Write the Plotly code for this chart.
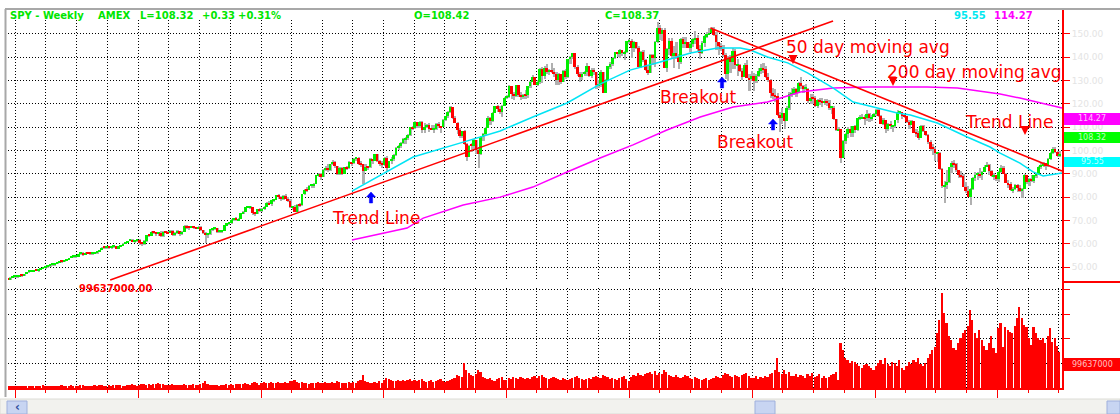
import plotly.graph_objects as go
import pandas as pd
import numpy as np

W, H = 1120, 414

# ---------------- DATA (weekly SPY) ----------------
first_open = 45.3

c94 = [44.6, 45.5, 45.9, 45.9]
h94 = [45.5, 45.7, 46.1, 46.3]
l94 = [44.3, 44.5, 45.3, 45.6]
v94 = [7, 8, 9, 6]

c95 = [46.0,46.5,46.4,47.0, 47.9,48.1,48.2,48.8, 48.5,48.9,49.5,49.7,50.1, 50.6,50.9,51.0,51.4, 52.0,52.5,52.3,52.8, 53.3,53.9,54.4,54.4,54.5, 55.6,56.0,55.4,56.2, 55.8,55.6,56.0,56.1, 56.3,57.2,58.3,58.2,58.4, 58.3,58.6,58.9,58.1, 58.9,59.3,60.0,60.7, 61.2,61.6,61.1,61.4,61.6]
h95 = [46.3,46.7,46.8,47.1, 48.0,48.3,48.4,48.9, 49.0,49.0,49.6,50.0,50.3, 50.7,51.0,51.2,51.5, 52.2,52.6,52.8,53.0, 53.5,54.0,54.6,54.9,54.8, 55.7,56.4,56.4,56.4, 56.4,56.0,56.2,56.4, 56.6,57.4,58.4,58.6,58.7, 58.6,58.8,59.2,59.0, 59.0,59.5,60.1,60.8, 61.3,61.9,62.2,61.6,61.8]
l95 = [45.6,45.9,46.1,46.2, 46.9,47.7,47.9,48.0, 48.3,48.2,48.8,49.3,49.5, 49.9,50.4,50.3,50.8, 51.2,51.8,52.0,52.1, 52.5,52.9,53.7,53.9,54.0, 54.4,55.3,54.8,55.3, 55.5,55.2,55.4,55.7, 55.9,56.3,57.2,57.8,57.8, 57.7,57.8,58.3,57.6, 58.0,58.7,59.0,59.8, 60.5,61.0,60.7,60.5,61.1]
v95 = [8,9,7,8, 9,8,10,8, 9,10,8,11,9, 8,9,10,8, 9,10,11,9, 10,9,12,10,9, 10,11,12,9, 8,9,10,11, 10,12,11,9,10, 11,10,12,13, 11,12,10,9, 12,14,16,11,8]

c96 = [60.2,59.9,61.1,63.6, 63.5,65.0,64.7,64.4, 64.4,63.3,65.1,65.0,64.5, 65.5,63.6,64.5,65.5, 64.2,65.2,67.8,67.0,66.9, 67.3,66.8,66.6,67.2, 65.7,64.6,63.8,64.0, 66.2,66.6,66.6,65.1,65.2, 65.5,68.0,68.7,68.7, 70.1,71.0,70.1,70.5, 73.0,73.7,75.7,75.7,75.7, 73.3,72.8,74.8,74.1]
h96 = [62.1,60.5,61.4,63.8, 64.2,65.3,65.6,65.1, 65.0,65.5,65.3,65.5,65.4, 65.7,65.7,64.9,65.8, 65.6,65.6,67.9,68.1,67.4, 67.6,67.5,67.1,67.4, 67.5,66.0,65.1,64.5, 66.5,66.8,66.9,66.7,65.6, 65.8,68.2,69.0,69.0, 70.4,71.2,71.4,70.9, 73.3,73.9,75.9,76.2,76.0, 75.9,73.6,75.1,75.4]
l96 = [59.6,59.0,59.4,60.9, 63.0,63.4,64.0,63.5, 63.4,62.8,63.0,64.7,64.1, 64.4,63.2,63.4,64.3, 63.4,63.9,65.1,66.5,66.1, 66.6,66.4,66.2,66.3, 65.4,64.2,60.5,62.6, 63.8,65.5,66.0,64.8,64.9, 64.6,65.4,67.8,68.3, 68.6,69.8,69.8,69.9, 70.4,72.7,73.6,75.2,75.3, 72.4,71.9,72.7,73.8]
v96 = [14,16,18,14, 16,14,18,16, 20,18,16,14,12, 14,16,14,12, 14,12,16,14,12, 14,16,12,14, 16,20,29,18, 14,12,14,12,10, 12,14,16,14, 16,14,18,16, 18,16,20,18,14, 20,24,22,14]

c97 = [74.8,75.9,77.6,77.0,78.6, 78.9,80.8,80.1,79.1, 80.4,79.3,78.5,75.7, 75.7,73.7,76.6,76.5, 81.2,83.0,82.9,84.8,84.8, 85.8,89.3,89.8,88.7, 91.6,92.6,91.6,94.1, 95.0,93.3,90.0,92.3,89.9, 92.9,92.3,95.0,94.5, 96.5,96.6,94.4,94.1,91.4, 93.0,92.8,96.3,95.5, 98.3,95.3,94.6,93.6]
h97 = [75.3,76.1,77.8,78.2,78.8, 79.4,81.1,81.3,80.6, 80.8,81.5,79.9,79.0, 76.4,76.7,76.9,77.3, 81.4,83.4,84.2,85.0,85.3, 86.0,89.5,90.5,90.5, 92.0,93.4,94.0,94.4, 96.1,95.5,93.5,93.0,92.8, 93.1,93.5,95.5,95.1, 96.7,97.2,97.0,95.5,94.3, 94.2,93.5,96.6,96.5, 98.5,98.4,96.1,95.5]
l97 = [73.7,74.3,75.6,76.5,76.2, 77.8,78.6,79.4,78.4, 78.9,79.0,78.0,75.5, 74.6,73.6,73.7,75.9, 76.3,80.8,82.1,82.9,84.0, 83.9,85.7,88.5,87.5, 88.6,91.0,90.8,91.4, 93.6,92.4,89.4,89.6,89.7, 90.1,91.8,92.0,93.5, 94.4,95.6,93.8,92.8,85.5, 91.2,91.6,92.3,94.2, 95.4,95.0,93.3,92.6]
v97 = [20,24,22,20,24, 22,20,24,22, 20,24,22,28, 29,33,24,22, 24,20,22,18,20, 22,20,24,22, 20,24,22,20, 24,22,29,24,22, 20,22,24,22, 24,22,29,33,53, 29,24,22,20, 24,22,29,20]

c98 = [96.9,92.7,95.3,96.5,98.0, 101.2,102.0,103.4,104.9, 105.5,106.8,109.9,109.5, 112.2,110.7,112.4,108.6, 110.1,110.9,109.2,109.1,109.1, 111.3,110.4,110.0,113.3, 114.6,116.6,118.6,114.1,112.0, 108.9,106.2,108.2,102.7, 97.3,102.1,102.0,104.4, 100.2,98.4,105.6,107.1,109.8, 114.1,112.5,116.3,119.2, 117.7,116.6,118.9,122.6]
h98 = [97.2,97.6,95.7,97.2,98.3, 101.4,102.4,103.6,105.2, 105.9,107.0,110.0,110.6, 112.5,112.3,112.7,112.6, 111.8,111.3,112.0,110.8,110.9, 111.7,112.1,110.5,113.5, 114.9,116.8,119.0,118.8,115.0, 112.4,109.5,108.5,108.8, 103.1,102.4,103.2,104.8, 104.5,101.6,106.4,107.4,110.0, 114.8,114.4,116.5,119.3, 119.6,119.0,119.5,122.9]
l98 = [93.4,91.2,92.5,94.1,95.4, 97.8,100.3,101.0,103.0, 103.0,104.7,106.3,108.8, 109.2,109.5,109.7,107.7, 107.5,109.5,108.1,108.6,107.6, 108.8,109.8,107.6,109.9, 112.7,114.0,116.3,113.7,111.7, 107.2,105.3,105.2,102.5, 95.7,97.1,99.5,100.4, 98.7,92.3,98.0,104.2,106.5, 110.2,111.0,112.3,116.4, 116.5,115.8,114.2,119.0]
v98 = [33,41,37,33,29, 29,33,29,33, 29,33,37,29, 33,29,33,37, 29,25,29,33,25, 29,33,37,29, 25,29,33,37,41, 53,49,45,100, 73,61,53,49, 57,75,65,45,41, 37,41,33,29, 37,41,45,33]

c99 = [122.9,127.5,124.3,123.5,127.9, 123.9,123.1,123.9,123.8, 127.5,129.4,131.6,128.3, 129.3,134.8,131.9,135.6,133.5, 134.6,133.8,133.0,130.2, 132.8,129.4,134.2,131.5, 139.1,140.3,141.8,135.7,132.8, 131.4,132.9,133.6,136.1, 132.0,134.7,133.5,128.0, 128.2,133.7,124.7,130.1,136.2, 137.0,139.6,142.2,141.6, 143.3,141.8,142.1,146.9,146.9]
h99 = [123.9,128.2,127.5,125.3,128.0, 128.3,125.1,124.4,125.9, 127.8,130.0,132.3,131.7, 130.2,135.3,135.8,136.1,137.0, 135.0,137.6,135.2,133.9, 133.2,133.0,134.6,134.9, 139.4,140.6,142.0,141.9,136.8, 133.8,133.6,134.2,137.7, 136.4,135.2,135.2,133.6, 130.2,134.7,133.8,130.5,136.3, 138.0,140.0,142.4,142.4, 143.5,143.3,142.8,147.0,147.9]
l99 = [122.1,122.6,122.0,121.7,122.8, 123.1,121.8,121.9,122.3, 122.5,126.7,129.4,127.9, 127.6,128.6,129.0,130.8,132.7, 132.5,133.2,131.4,128.3, 128.1,128.6,129.4,130.8, 131.3,137.3,139.4,135.1,132.0, 129.6,130.2,131.8,132.1, 131.6,131.0,132.4,126.4, 126.8,127.1,124.7,124.5,130.0, 135.0,136.3,139.3,140.3, 139.7,140.7,139.0,141.9,145.8]
v99 = [33,41,37,45,41, 37,45,41,37, 41,37,45,49, 41,49,53,45,41, 37,41,45,41, 37,33,41,37, 33,37,41,45,49, 41,37,33,37, 41,37,45,49, 45,41,53,49,45, 37,41,37,33, 41,45,49,37,29]

c00 = [144.1,146.5,144.1,136.0, 142.4,138.7,134.6,133.3, 140.9,139.5,146.4,152.7,149.9, 151.6,135.6,143.4,146.9, 140.7,142.0,140.6,137.8, 147.7,145.8,146.4,144.1,145.5, 147.8,148.1,143.7,141.9, 146.2,149.1,149.9,150.6, 152.0,149.4,146.6,144.9,143.7, 140.8,132.9,139.6,137.9, 142.6,136.5,136.7,134.1, 131.5,136.9,131.2,130.5,132.0]
h00 = [147.8,147.2,146.5,144.9, 142.8,143.1,139.4,136.8, 141.5,141.6,146.9,155.3,153.9, 152.7,152.5,144.1,148.2, 148.1,144.7,146.6,141.2, 148.2,148.5,148.8,146.1,146.5, 148.1,151.4,149.5,145.2, 146.9,149.5,150.9,152.6, 152.9,153.0,150.9,146.4,146.2, 145.4,141.7,140.6,140.9, 143.9,143.4,139.4,137.3, 135.4,137.6,138.7,132.8,134.0]
l00 = [139.8,142.1,143.7,135.8, 135.2,138.0,134.3,132.3, 133.1,136.7,136.0,146.1,147.3, 147.2,135.3,133.7,141.0, 139.8,135.5,139.4,134.9, 137.3,144.1,143.8,143.9,142.2, 144.3,145.5,142.4,139.4, 141.4,144.3,148.2,149.5, 149.8,149.0,143.2,141.0,142.6, 140.2,130.5,129.9,133.4, 135.0,135.0,132.0,133.9, 130.3,131.5,130.9,125.5,129.7]
v00 = [45,53,49,61, 53,49,57,61, 65,57,69,53,61, 57,73,65,53, 49,45,53,45, 41,45,53,49,41, 37,45,41,37, 33,37,41,33, 37,41,49,45,41, 53,61,57,49, 45,53,49,45, 53,57,61,49,41]

c01 = [129.8,131.9,134.3,135.4, 134.9,131.5,130.1,124.5, 123.5,123.3,115.1,113.9,116.0, 112.8,118.4,124.2,124.2, 126.6,124.6,129.1,127.7, 126.5,126.5,121.4,122.5,122.4, 119.1,121.5,121.1,120.5, 121.4,120.2,118.3,118.4,113.4, 108.6,109.3,96.6,104.1, 107.1,109.1,107.3,110.4, 108.7,113.9,113.9,114.4,113.9, 115.8,113.9,114.4,115.8]
h01 = [133.3,133.0,135.4,137.2, 137.4,136.4,133.2,130.8, 126.8,126.5,124.7,116.7,118.1, 116.3,119.2,125.2,126.9, 127.3,126.9,129.2,131.5, 128.1,128.5,126.7,124.1,124.3, 123.6,121.9,122.7,122.7, 122.2,122.3,121.7,118.9,119.3, 113.4,110.0,108.4,104.5, 107.7,110.2,110.7,110.6, 110.9,114.0,115.2,115.5,115.2, 117.5,116.3,115.2,116.2]
l01 = [125.5,128.8,131.6,132.9, 133.2,130.9,129.2,122.7, 121.9,120.8,115.0,108.1,111.3, 109.1,112.6,117.3,123.0, 123.9,122.9,124.6,126.3, 124.8,125.8,120.5,119.9,120.0, 118.7,118.1,119.6,118.7, 119.7,119.0,117.2,115.7,113.0, 108.3,108.5,94.5,96.8, 102.9,105.3,106.0,105.6, 107.3,108.3,113.2,113.6,111.0, 112.8,112.4,112.8,114.5]
v01 = [41,49,37,45, 41,49,45,57, 61,73,122,65,57, 73,57,65,49, 49,57,45,53, 49,41,57,49,61, 45,49,57,41, 49,41,45,53,57, 65,33,184,155, 122,114,102,110, 106,98,90,82,94, 98,90,82,73]

c02 = [117.2,114.6,111.5,113.3, 109.4,111.3,110.4,110.4, 113.1,116.4,116.6,114.8,114.7, 112.3,111.1,112.5,107.6, 107.3,105.4,110.6,108.3,106.7, 103.7,100.8,100.7,98.9, 98.9,92.1,84.7,85.2, 86.4,92.8,94.6,94.1,91.6, 89.3,88.9,84.5,82.8, 80.0,83.5,88.4,89.7, 90.0,89.4,90.9,93.0,93.6, 91.2,88.9,89.5,87.6]
h02 = [117.6,117.7,115.2,113.8, 113.1,112.0,112.6,111.1, 113.3,117.3,117.1,116.7,115.5, 114.8,113.0,113.1,112.6, 109.1,108.5,111.0,111.1,108.5, 106.9,104.3,102.7,101.3, 99.4,99.4,92.3,87.0, 91.6,92.9,95.4,96.0,94.6, 91.8,91.3,89.9,86.5, 84.6,84.0,88.8,90.7, 90.8,92.7,91.2,93.8,95.2, 94.1,91.6,90.4,89.5]
l02 = [114.6,114.2,111.2,110.9, 107.6,108.5,109.2,107.9, 109.8,112.0,115.5,113.5,114.1, 111.8,109.4,110.9,107.5, 105.7,104.6,105.5,107.9,106.1, 102.6,99.9,98.2,95.7, 95.1,91.6,84.0,77.6, 83.6,86.0,90.3,92.4,90.6, 88.0,88.0,84.4,81.7, 80.0,76.8,83.0,87.0, 87.2,88.0,87.4,90.9,93.1, 89.4,88.7,87.4,87.0]
v02 = [90,102,114,98, 122,98,90,106, 102,90,114,82,73, 90,106,98,114, 106,122,98,90,102, 122,139,155,167, 224,277,388,306, 265,212,196,163,155, 184,204,224,237, 253,318,277,224, 204,237,196,171,155, 184,212,163,143]

c03 = [90.9,92.7,90.1,86.2,85.6, 82.9,83.4,85.1,84.1, 82.8,83.3,89.5,86.4, 87.8,86.9,89.3,89.8, 93.1,93.4,94.5,93.4,96.4, 98.8,100.8,99.5,97.5, 98.5]
h03 = [91.3,93.7,93.2,90.5,87.2, 86.6,84.5,85.8,85.6, 85.3,84.1,89.9,89.3, 88.4,89.3,89.5,90.3, 93.5,94.5,95.1,94.8,96.7, 99.4,101.4,101.6,99.8, 99.7]
l03 = [86.5,90.2,89.8,85.9,84.0, 82.6,81.7,83.2,82.2, 82.0,79.6,83.4,85.6, 84.6,86.6,86.1,88.2, 89.4,92.1,93.0,91.5,93.1, 96.0,98.4,98.8,97.1, 97.3]
v03 = [245,265,167,249,237, 228,224,253,286, 330,286,257,249, 204,175,249,224, 204,196,204,184,212, 245,188,204,171, 147]

# moving averages
ma50_dates = ["1997-09-28","1998-03-29","1998-08-25","1998-12-13","1999-03-20","1999-06-30","1999-10-06",
              "2000-01-03","2000-04-02","2000-07-01","2000-09-19","2000-11-26","2000-12-26","2001-02-15",
              "2001-04-16","2001-06-14","2001-08-30","2001-10-28","2002-01-08","2002-03-08","2002-04-16",
              "2002-07-05","2002-10-02","2002-12-09","2003-01-08","2003-03-08","2003-04-16","2003-05-16","2003-07-11"]
ma50_vals = [82.6,97.2,103.6,108.4,114.4,120.4,128.5, 134.5,138.0,141.8,144.0,144.0,143.1,140.1,
             137.6,133.3,126.8,120.8,118.2,116.1,115.2, 111.8,105.8,101.5,98.9,94.6,90.8,89.1,90.3]
ma200_dates = ["1997-09-28","1998-03-11","1998-04-28","1998-08-25","1998-12-13","1999-03-20","1999-06-30",
               "1999-10-06","2000-01-12","2000-04-22","2000-07-30","2000-11-05","2001-02-15","2001-05-24",
               "2001-08-30","2001-12-09","2002-03-17","2002-06-06","2002-09-03","2002-11-19","2003-01-08",
               "2003-03-08","2003-05-07","2003-07-11"]
ma200_vals = [61.6,66.7,71.0,76.6,80.0,84.3,90.8, 96.8,102.4,108.8,114.4,118.7,120.8,125.1,
              126.8,127.3,127.3,127.3,126.8,125.1,124.2, 122.5,120.4,118.2]

# hand-drawn trend lines (end points)
up_trend_dates = ["1995-10-10", "2001-08-29"]
up_trend_vals = [44.4, 155.6]
down_trend_dates = ["2000-08-29", "2003-07-11"]
down_trend_vals = [152.6, 91.2]

price_ticks = [50, 60, 70, 80, 90, 100, 110, 120, 130, 140, 150]
vol_ticks = [100, 200, 300, 400]

# ---------------- assemble ----------------
years = [(c94,h94,l94,v94),(c95,h95,l95,v95),(c96,h96,l96,v96),(c97,h97,l97,v97),(c98,h98,l98,v98),
         (c99,h99,l99,v99),(c00,h00,l00,v00),(c01,h01,l01,v01),(c02,h02,l02,v02),(c03,h03,l03,v03)]
for i, (a, b, c, d) in enumerate(years):
    if not (len(a) == len(b) == len(c) == len(d)):
        raise ValueError(f"year block {i}: {len(a)} {len(b)} {len(c)} {len(d)}")
close = np.array(sum([y[0] for y in years], []))
high = np.array(sum([y[1] for y in years], []))
low = np.array(sum([y[2] for y in years], []))
volume = np.array(sum([y[3] for y in years], []))
dates = pd.date_range("1994-12-09", periods=len(close), freq="W-FRI")

opens = np.concatenate([[first_open], close[:-1]])
hi = np.maximum(high, np.maximum(opens, close))
lo = np.minimum(low, np.minimum(opens, close))

DAY = 86400000
GREEN = "#00ee00"
RED = "#ff0000"

def px(x):
    return x / W

def py(y):
    return 1 - y / H

fig = go.Figure()

# gray high-low wicks (slight shadow offset)
fig.add_trace(go.Bar(x=dates + pd.Timedelta(days=2), y=hi - lo, base=lo, width=5 * DAY,
                     marker=dict(color="#b0b0b0", line=dict(width=0)),
                     xaxis="x", yaxis="y", hoverinfo="skip"))
# candle bodies
body_base = np.minimum(opens, close)
body_h = np.maximum(np.abs(close - opens), 0.6)
body_col = [GREEN if c >= o else RED for o, c in zip(opens, close)]
fig.add_trace(go.Bar(x=dates, y=body_h, base=body_base, width=8 * DAY,
                     marker=dict(color=body_col, line=dict(width=0)),
                     xaxis="x", yaxis="y"))

# moving averages
fig.add_trace(go.Scatter(x=ma200_dates, y=ma200_vals, mode="lines",
                         line=dict(color="#ff00ff", width=1.5), xaxis="x", yaxis="y"))
fig.add_trace(go.Scatter(x=ma50_dates, y=ma50_vals, mode="lines",
                         line=dict(color="#00e4f4", width=1.5), xaxis="x", yaxis="y"))
# trend lines
fig.add_trace(go.Scatter(x=up_trend_dates, y=up_trend_vals, mode="lines",
                         line=dict(color=RED, width=1.6), xaxis="x", yaxis="y"))
fig.add_trace(go.Scatter(x=down_trend_dates, y=down_trend_vals, mode="lines",
                         line=dict(color=RED, width=1.6), xaxis="x", yaxis="y"))

# volume
fig.add_trace(go.Bar(x=dates, y=volume, width=5 * DAY,
                     marker=dict(color=RED, line=dict(width=0)),
                     xaxis="x2", yaxis="y2"))

xdom = [px(8), px(1063)]
xr = ["1994-12-10", "2003-07-14"]
GD = "1px,2px"

fig.update_layout(
    width=W, height=H, margin=dict(l=0, r=0, t=0, b=0),
    paper_bgcolor="white", plot_bgcolor="white",
    showlegend=False, barmode="overlay", bargap=0,
    xaxis=dict(domain=xdom, range=xr, type="date", anchor="y",
               tick0="1995-01-01", dtick="M3", showticklabels=False, ticks="",
               showgrid=True, gridcolor="#000000", gridwidth=1, griddash=GD,
               zeroline=False, showline=False),
    xaxis2=dict(domain=xdom, range=xr, type="date", anchor="y2", matches="x",
                tick0="1995-01-01", dtick="M12", showticklabels=False,
                ticks="outside", ticklen=8, tickcolor=RED, tickwidth=1,
                showline=True, linecolor=RED, linewidth=2,
                showgrid=True, gridcolor="#000000", gridwidth=1, griddash=GD,
                minor=dict(tick0="1995-01-01", dtick="M3", ticks="outside", ticklen=3,
                           tickcolor=RED, showgrid=True, gridcolor="#000000",
                           gridwidth=1, griddash=GD),
                zeroline=False),
    yaxis=dict(domain=[py(281), py(20)], range=[44.0, 156.0], anchor="x", side="right",
               tickvals=price_ticks, ticktext=[f"{v:.2f}" for v in price_ticks],
               ticks="outside", ticklen=6, tickcolor=RED, tickwidth=1,
               tickfont=dict(family="DejaVu Sans", size=9, color="#e4e4e4"),
               showgrid=True, gridcolor="#000000", gridwidth=1, griddash=GD,
               zeroline=False, showline=False),
    yaxis2=dict(domain=[py(388), py(288)], range=[0, 408], anchor="x2", side="right",
                tickvals=vol_ticks, showticklabels=False,
                ticks="outside", ticklen=6, tickcolor=RED, tickwidth=1,
                showgrid=True, gridcolor="#000000", gridwidth=1, griddash=GD,
                zeroline=False, showline=False),
)

shapes = []
def rect(x0, y0, x1, y1, fill, line=None, lw=0):
    shapes.append(dict(type="rect", xref="paper", yref="paper", x0=px(x0), x1=px(x1),
                       y0=py(y1), y1=py(y0), fillcolor=fill,
                       line=dict(color=line or fill, width=lw)))
def hline(x0, x1, y, color, w):
    shapes.append(dict(type="line", xref="paper", yref="paper", x0=px(x0), x1=px(x1),
                       y0=py(y), y1=py(y), line=dict(color=color, width=w)))
def vline(x, y0, y1, color, w):
    shapes.append(dict(type="line", xref="paper", yref="paper", x0=px(x), x1=px(x),
                       y0=py(y0), y1=py(y1), line=dict(color=color, width=w)))
def up_arrow(cx, ty, color):
    pts = [(cx, ty), (cx + 4.5, ty + 5), (cx + 1.6, ty + 5), (cx + 1.6, ty + 11),
           (cx - 1.6, ty + 11), (cx - 1.6, ty + 5), (cx - 4.5, ty + 5)]
    path = "M " + " L ".join(f"{px(a):.6f},{py(b):.6f}" for a, b in pts) + " Z"
    shapes.append(dict(type="path", xref="paper", yref="paper", path=path,
                       fillcolor=color, line=dict(color=color, width=0.5)))

# window border
hline(5, 1120, 9, "#a8a8a8", 2)
vline(5.5, 9, 397, "#a8a8a8", 2)
# right axis and pane separator
vline(1063, 10, 390, RED, 2)
hline(1063, 1120, 282, RED, 2)
# value boxes on the scale
rect(1064, 113, 1120, 125, "#ff00ff")
rect(1064, 132, 1120, 143, "#00ff00")
rect(1064, 157, 1120, 167, "#00ffff")
rect(1064, 358, 1120, 371, RED)
# scrollbar
rect(0, 399, 1120, 414, "#f2f2ee", "#dcdcd6", 1)
rect(7, 401, 27, 414, "#c8d5f2", "#9fb0dc", 1)
rect(755, 401, 775, 414, "#c8d5f2", "#9fb0dc", 1)
rect(1107, 401, 1120, 414, "#c8d5f2", "#9fb0dc", 1)
# blue breakout arrows
up_arrow(371, 192, "#0000ff")
up_arrow(722, 77, "#0000ff")
up_arrow(773, 119, "#0000ff")

anns = []
def text(s, x, y, color, size, bold=False, family="DejaVu Sans", anchor="left"):
    anns.append(dict(text=f"<b>{s}</b>" if bold else s, xref="paper", yref="paper",
                     x=px(x), y=py(y), xanchor=anchor, yanchor="middle", showarrow=False,
                     font=dict(family=family, size=size, color=color)))
def arrow(x, y_head, dy, color, w, size):
    anns.append(dict(text="", xref="paper", yref="paper", x=px(x), y=py(y_head),
                     ax=0, ay=dy, showarrow=True, arrowhead=2, arrowsize=size,
                     arrowwidth=w, arrowcolor=color))

HG = "#00e600"
text("SPY - Weekly", 8, 16, HG, 10, True)
text("AMEX", 96, 16, HG, 10, True)
text("L=108.32", 138, 16, HG, 10, True)
text("+0.33", 200, 16, HG, 10, True)
text("+0.31%", 236, 16, HG, 10, True)
text("O=108.42", 412, 16, HG, 10, True)
text("C=108.37", 603, 16, HG, 10, True)
text("95.55", 952, 16, "#00e8f0", 10, True)
text("114.27", 992, 16, "#ff00ff", 10, True)
text("99637000.00", 77, 288, RED, 10, True)

text("Trend Line", 330, 218, RED, 17)
text("Breakout", 658, 97, RED, 17)
text("Breakout", 715, 142, RED, 17)
text("50 day moving avg", 784, 47, RED, 17)
text("200 day moving avg", 885, 72, RED, 17)
text("Trend Line", 963, 122, RED, 17)

# labels in scale boxes
text("114.27", 1092, 119, "rgba(255,255,255,0.75)", 8, False, anchor="center")
text("108.32", 1092, 137.5, "rgba(255,255,255,0.75)", 8, False, anchor="center")
text("95.55", 1092, 162, "rgba(255,255,255,0.75)", 8, False, anchor="center")
text("99637000", 1092, 364.5, "rgba(255,255,255,0.75)", 8, False, anchor="center")
text("‹", 17, 407, "#3050a0", 12, True, anchor="center")

# small red down arrows
arrow(793, 64, -8, RED, 1.5, 1.2)
arrow(893, 86, -8, RED, 1.5, 1.2)
arrow(1025, 135, -7, RED, 1.5, 1.2)

fig.update_layout(shapes=shapes, annotations=anns)
fig.write_html("out.html")
